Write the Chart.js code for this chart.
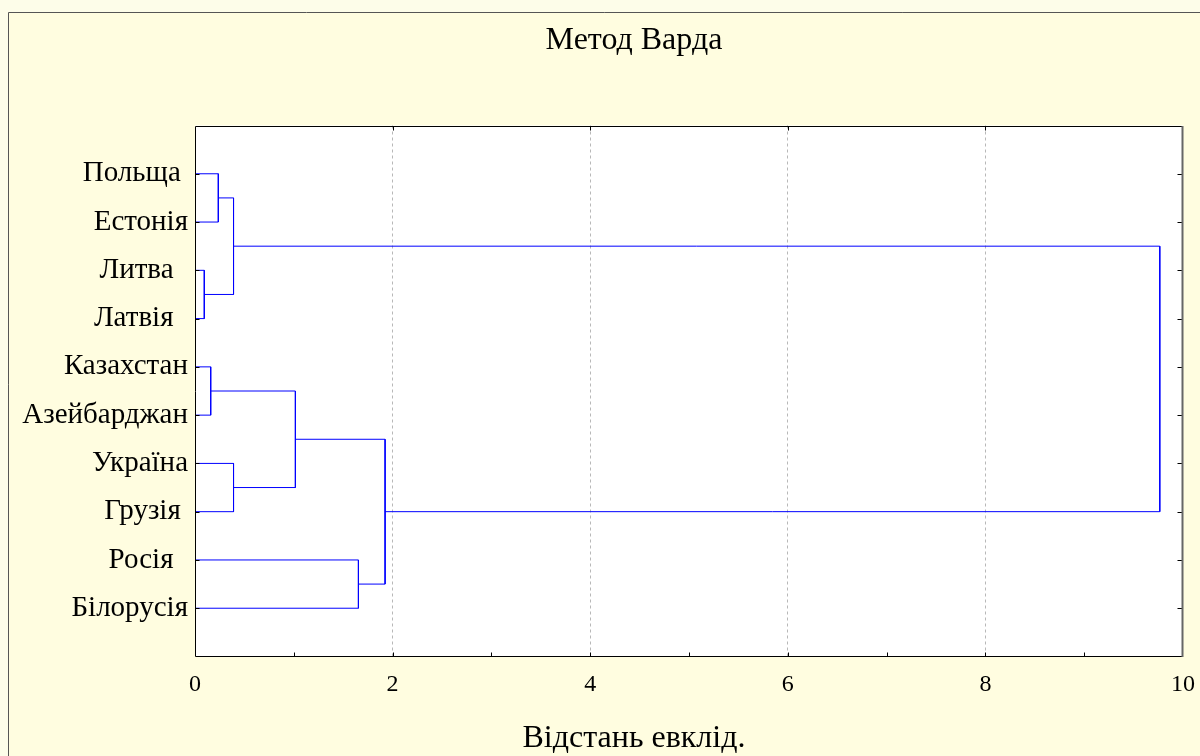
<!DOCTYPE html>
<html>
<head>
<meta charset="utf-8">
<script src="https://cdn.jsdelivr.net/npm/chart.js@4.4.0/dist/chart.umd.min.js"></script>
<style>
html, body { margin: 0; padding: 0; background: #fdfde9; }
</style>
</head>
<body>
<canvas id="canvas-dendro" width="1200" height="756"></canvas>
<script>
// leaves top to bottom (trailing spaces are in the original labels)
const leafLabels = ["Польща ", "Естонія", "Литва  ", "Латвія  ", "Казахстан", "Азейбарджан", "Україна", "Грузія ", "Росія  ", "Білорусія"];
// merges: leaves are nodes 0..9, merge k makes node 10 + k
const mergeLeft = [2, 4, 0, 12, 6, 11, 8, 15, 13];
const mergeRight = [3, 5, 1, 10, 7, 14, 9, 16, 17];
const mergeHeight = [0.094, 0.159, 0.236, 0.39, 0.39, 1.016, 1.654, 1.924, 9.765];

const titleText = "Метод Варда";
const xTitle = "Відстань евклід.";
const serif = "'Liberation Serif', 'Times New Roman', serif";

const nodeX = leafLabels.map(() => 0);
const nodeY = leafLabels.map((_, i) => i + 1);
const datasets = mergeHeight.map((h, k) => {
    const a = mergeLeft[k];
    const b = mergeRight[k];
    const pts = [
        {x: nodeX[a], y: nodeY[a]},
        {x: h, y: nodeY[a]},
        {x: h, y: nodeY[b]},
        {x: nodeX[b], y: nodeY[b]},
    ];
    nodeX.push(h);
    nodeY.push((nodeY[a] + nodeY[b]) / 2);
    return {
        data: pts,
        showLine: true,
        borderColor: "#0000ff",
        borderWidth: 1,
        pointRadius: 0,
        tension: 0,
    };
});

const frame = {
    id: "frame",
    beforeDraw(chart) {
        const {ctx, chartArea: a} = chart;
        ctx.save();
        ctx.fillStyle = "#fdfde9";
        ctx.fillRect(0, 0, chart.width, chart.height);
        ctx.fillStyle = "#fffde0";
        ctx.fillRect(8, 12, chart.width, chart.height);
        ctx.strokeStyle = "#555";
        ctx.lineWidth = 1;
        ctx.beginPath();
        ctx.moveTo(8.5, chart.height);
        ctx.lineTo(8.5, 12.5);
        ctx.lineTo(chart.width, 12.5);
        ctx.stroke();
        ctx.fillStyle = "#fff";
        ctx.fillRect(a.left, a.top, a.width, a.height);
        ctx.restore();
    },
    afterDraw(chart) {
        const {ctx, chartArea: a, scales} = chart;
        const x = scales.x, y = scales.y;
        const L = Math.round(a.left) + 0.5, R = Math.round(a.right) - 0.5;
        const T = Math.round(a.top) + 0.5, B = Math.round(a.bottom) - 0.5;
        ctx.save();
        ctx.strokeStyle = "#000";
        ctx.lineWidth = 1;
        ctx.beginPath();
        for (let v = 1; v < 10; v++) {
            const px = Math.round(x.getPixelForValue(v)) + 0.5;
            ctx.moveTo(px, B);
            ctx.lineTo(px, B - 4);
            if (v % 2 === 0) {
                ctx.moveTo(px, T);
                ctx.lineTo(px, T + 4);
            }
        }
        leafLabels.forEach((_, i) => {
            const py = Math.round(y.getPixelForValue(i + 1)) + 0.5;
            ctx.moveTo(L, py);
            ctx.lineTo(L + 4, py);
            ctx.moveTo(R, py);
            ctx.lineTo(R - 5, py);
        });
        ctx.moveTo(R, T);
        ctx.lineTo(L, T);
        ctx.lineTo(L, B);
        ctx.lineTo(R, B);
        ctx.stroke();
        ctx.strokeStyle = "#666";
        ctx.lineWidth = 2;
        ctx.beginPath();
        ctx.moveTo(R, T - 0.5);
        ctx.lineTo(R, B + 0.5);
        ctx.stroke();
        ctx.restore();
    },
};

const chart = new Chart(document.getElementById("canvas-dendro"), {
    type: "scatter",
    data: {datasets: datasets},
    plugins: [frame],
    options: {
        responsive: false,
        animation: false,
        // negative right padding moves the title centre right, like the original frame
        layout: {padding: {left: 8, right: -60, top: 0, bottom: 0}},
        plugins: {
            legend: {display: false},
            tooltip: {enabled: false},
            title: {
                display: true,
                text: titleText,
                color: "#000",
                font: {family: serif, size: 32, weight: "normal", lineHeight: 1.2},
                padding: {top: 21, bottom: 66.1},
            },
            subtitle: {
                display: true,
                position: "bottom",
                text: xTitle,
                color: "#000",
                font: {family: serif, size: 32, weight: "normal", lineHeight: 1},
                padding: {top: 0, bottom: 1},
            },
        },
        scales: {
            x: {
                type: "linear",
                min: 0,
                max: 10,
                ticks: {
                    stepSize: 2,
                    color: "#000",
                    padding: 14,
                    font: {family: serif, size: 24},
                },
                grid: {
                    drawTicks: false,
                    lineWidth: 1,
                    color: (c) => {
                        const v = c.tick ? c.tick.value : 0;
                        return v > 0 && v < 10 ? "#b8b8b8" : "rgba(0,0,0,0)";
                    },
                },
                border: {display: false, dash: [3, 3]},
                afterFit: (s) => {
                    s.height = 66.5;
                    s.paddingLeft = 0;
                    s.paddingRight = 0;
                },
            },
            y: {
                type: "linear",
                min: 0,
                max: 11,
                reverse: true,
                ticks: {
                    stepSize: 1,
                    autoSkip: false,
                    maxTicksLimit: 20,
                    color: "#000",
                    padding: 7,
                    font: {family: serif, size: 29},
                    callback: (v) => (v >= 1 && v <= leafLabels.length ? leafLabels[v - 1] : ""),
                },
                grid: {display: false, drawTicks: false},
                border: {display: false},
                afterFit: (s) => { s.width = 187; },
            },
            y2: {
                type: "linear",
                position: "right",
                ticks: {display: false},
                grid: {display: false, drawTicks: false},
                border: {display: false},
                afterFit: (s) => { s.width = 77; },
            },
        },
    },
});
</script>
</body>
</html>
